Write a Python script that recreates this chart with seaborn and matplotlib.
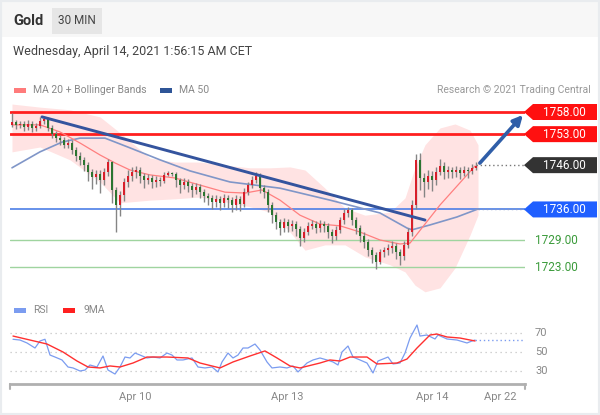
import matplotlib
matplotlib.use("Agg")
import numpy as np
import matplotlib.pyplot as plt
import matplotlib.transforms as mtransforms
from matplotlib.patches import Rectangle, Polygon
import seaborn as sns

# ---- price data (30 min candles, index = candle number) ----
closes = [1755.7, 1755.0, 1755.3, 1754.6, 1755.3, 1754.4, 1754.8, 1756.0, 1756.4, 1754.4,
          1753.0, 1752.1, 1751.7, 1750.6, 1751.0, 1749.4, 1748.1, 1747.2, 1746.0, 1744.5,
          1743.3, 1744.0, 1742.7, 1744.5, 1746.7, 1740.4, 1737.0, 1739.3, 1742.2, 1743.6,
          1744.5, 1744.9, 1743.6, 1742.7, 1743.1, 1742.2, 1742.7, 1742.4, 1743.8, 1744.2,
          1744.0, 1742.7, 1741.5, 1742.2, 1741.3, 1740.4, 1741.1, 1740.0, 1739.1, 1738.6,
          1737.7, 1738.4, 1737.5, 1738.6, 1738.1, 1737.0, 1738.4, 1737.3, 1740.0, 1741.5,
          1742.7, 1743.6, 1740.9, 1740.0, 1737.0, 1734.7, 1733.2, 1731.8, 1733.2, 1732.3,
          1732.8, 1731.6, 1729.6, 1731.0, 1732.3, 1732.8, 1731.8, 1732.8, 1732.3, 1731.0,
          1730.1, 1731.4, 1733.6, 1735.2, 1735.9, 1733.6, 1731.8, 1730.1, 1728.7, 1726.8,
          1725.7, 1724.2, 1726.4, 1726.8, 1727.3, 1727.7, 1726.4, 1725.5, 1728.0, 1730.9,
          1737.0, 1747.2, 1743.1, 1742.2, 1743.6, 1742.7, 1744.5, 1745.8, 1744.5, 1744.9,
          1744.5, 1744.9, 1744.2, 1744.9, 1744.7, 1745.4, 1745.8]
opens = [1755.0] + closes[:-1]
highs = [1757.8, 1756.3, 1756.0, 1756.0, 1756.1, 1755.9, 1755.6, 1756.8, 1757.1, 1756.9,
         1755.0, 1753.7, 1752.8, 1752.3, 1751.9, 1751.6, 1750.0, 1748.9, 1747.8, 1746.7,
         1745.2, 1745.0, 1744.8, 1745.3, 1747.5, 1747.0, 1741.0, 1740.2, 1743.2, 1744.8,
         1745.6, 1745.9, 1745.5, 1744.3, 1744.0, 1743.8, 1743.5, 1743.4, 1744.5, 1744.6,
         1744.5, 1744.4, 1743.2, 1743.0, 1742.8, 1741.9, 1742.0, 1741.7, 1740.6, 1739.8,
         1739.2, 1739.3, 1739.0, 1739.4, 1739.3, 1738.7, 1739.2, 1739.0, 1740.8, 1742.3,
         1743.6, 1744.5, 1744.2, 1741.6, 1740.7, 1737.6, 1735.4, 1733.9, 1734.0, 1733.9,
         1733.6, 1733.4, 1732.2, 1731.9, 1733.1, 1733.7, 1733.5, 1733.6, 1733.5, 1732.9,
         1731.6, 1732.3, 1734.4, 1736.2, 1736.6, 1736.4, 1734.2, 1732.4, 1730.8, 1729.4,
         1727.5, 1726.3, 1727.1, 1727.6, 1728.2, 1728.8, 1728.4, 1727.0, 1728.8, 1731.8,
         1738.2, 1748.6, 1748.8, 1744.2, 1745.0, 1744.6, 1745.6, 1747.3, 1746.6, 1745.9,
         1745.6, 1745.8, 1745.5, 1745.7, 1745.6, 1746.3, 1746.8]
lows = [1754.6, 1754.2, 1754.3, 1753.8, 1754.0, 1753.5, 1753.8, 1754.3, 1755.2, 1753.8,
        1752.2, 1751.2, 1750.6, 1749.8, 1749.9, 1748.5, 1747.0, 1746.0, 1744.6, 1742.5,
        1740.6, 1741.8, 1739.8, 1741.5, 1743.6, 1737.5, 1730.8, 1734.5, 1738.0, 1741.0,
        1742.5, 1743.0, 1742.0, 1740.9, 1741.8, 1740.8, 1741.0, 1741.2, 1742.0, 1743.5,
        1743.6, 1741.0, 1739.8, 1740.6, 1740.0, 1738.8, 1739.5, 1738.6, 1737.6, 1737.0,
        1736.2, 1736.6, 1735.8, 1736.5, 1736.3, 1735.5, 1735.8, 1735.6, 1736.5, 1739.2,
        1740.8, 1741.9, 1739.6, 1738.5, 1735.5, 1733.0, 1731.6, 1730.2, 1730.9, 1730.8,
        1731.2, 1730.0, 1727.8, 1728.7, 1730.2, 1731.5, 1730.6, 1731.0, 1731.0, 1729.6,
        1728.5, 1729.2, 1730.6, 1732.8, 1734.2, 1732.4, 1730.4, 1728.6, 1727.2, 1725.4,
        1724.0, 1722.5, 1723.6, 1725.3, 1725.6, 1726.2, 1724.8, 1723.4, 1724.6, 1727.2,
        1730.0, 1736.2, 1740.4, 1738.8, 1740.6, 1740.2, 1741.6, 1743.8, 1742.8, 1743.0,
        1743.2, 1743.4, 1742.8, 1743.5, 1743.2, 1744.0, 1744.9]

# bollinger band envelope
band_idx = [0, 7, 14.5, 22, 27, 34.5, 40.75, 47, 53.25, 59.5, 64.5, 69.5, 73.25, 78.25,
            83.25, 88.25, 94.5, 98.25, 100.75, 103.25, 107, 110.75, 114.5, 116.5]
band_upper = [1759.8, 1759.1, 1758.5, 1756.9, 1753.3, 1747.6, 1746.7, 1746.7, 1746.0, 1745.4,
              1745.4, 1745.6, 1744.9, 1740.8, 1736.3, 1734.7, 1735.4, 1738.6, 1745.4, 1750.6,
              1754.4, 1755.3, 1753.9, 1750.6]
band_lower = [1749.0, 1750.1, 1747.2, 1742.2, 1737.5, 1738.1, 1738.4, 1738.8, 1737.7, 1736.6,
              1735.4, 1730.9, 1726.8, 1728.0, 1728.0, 1725.3, 1723.5, 1721.9, 1718.9, 1717.4,
              1718.3, 1722.8, 1730.2, 1734.7]

ma20_idx = [0, 7, 12, 17, 22, 25.75, 29.5, 34.5, 40.75, 47, 53.25, 58.25, 62.5, 67, 72,
            77, 82, 87, 92, 97, 99.5, 107, 115.75]
ma20 = [1755.1, 1755.1, 1753.5, 1751.0, 1748.3, 1746.5, 1744.9, 1743.8, 1743.1, 1741.5,
        1739.9, 1739.7, 1740.4, 1738.1, 1734.7, 1732.7, 1732.3, 1730.9, 1729.1, 1728.2,
        1728.4, 1737.0, 1745.8]

ma50_idx = [0, 7, 12.5, 17, 23.25, 29.5, 37, 44.5, 54.5, 67, 79.5, 92, 98.75, 100, 104.5,
            111.25, 116.5]
ma50 = [1745.4, 1749.0, 1751.2, 1752.1, 1752.1, 1749.9, 1747.2, 1744.7, 1742.2, 1740.8,
        1738.1, 1735.2, 1731.8, 1731.4, 1732.5, 1734.3, 1736.1]

trend_idx = [7.5, 103.25]
trend_price = [1756.9, 1733.6]
forecast_idx = [116.5, 128.2]
forecast_price = [1746.0, 1757.8]

resistance = [1758.0, 1753.0]
last_price = 1746.0
pivot = 1736.0
supports = [1729.0, 1723.0]

# ---- RSI panel ----
rsi_idx = [0.25, 2, 3.75, 5.75, 7, 8.25, 9.5, 10.75, 12.5, 14, 15.25, 17, 18.25, 19.5, 21.25,
           22.75, 24, 25.75, 27, 28.25, 29.5, 30.75, 32, 33.75, 35.25, 37, 38.75, 40, 41.25,
           42.75, 45, 46.5, 48.25, 50, 51.5, 52.5, 54, 55.25, 56.5, 57.75, 59, 60.75, 62,
           63.75, 65, 67, 68.75, 70.25, 71.5, 73.75, 75.25, 77, 78.75, 80.25, 81.5, 82.5, 84,
           85.25, 87, 88.75, 90.25, 91.5, 94, 95.25, 97, 98.25, 99.5, 101.25, 102, 103.75,
           105.75, 106.5, 108.75, 111.25, 113.75, 115, 115.75]
rsi = [63.4, 62.6, 59.5, 54.2, 61.6, 63.4, 46.8, 44.7, 41.6, 34.2, 33.2, 30.0, 31.0, 36.3,
       34.2, 45.8, 31.0, 26.8, 34.2, 44.7, 43.7, 48.9, 46.8, 43.7, 44.7, 43.7, 48.9, 46.8,
       41.6, 41.6, 43.7, 34.2, 33.2, 34.2, 29.0, 39.5, 48.9, 43.7, 46.8, 54.2, 54.2, 58.4,
       52.1, 39.5, 33.2, 34.2, 33.2, 35.3, 29.0, 38.4, 41.6, 43.7, 41.6, 39.5, 36.3, 50.0,
       56.3, 44.7, 41.6, 38.4, 27.9, 40.5, 44.7, 37.4, 38.4, 48.9, 64.7, 78.4, 66.8, 67.9,
       63.7, 67.9, 63.7, 62.6, 59.5, 61.6, 62.6]
ma9_idx = [0.25, 4.5, 8.75, 12.75, 16.25, 19, 22, 24.5, 27, 30.25, 33.75, 38.75, 44, 47, 52,
           55.25, 59.5, 63.25, 66.25, 69.5, 72, 77, 79.5, 82, 84.5, 88.75, 91.25, 96.25,
           98.75, 101.25, 104.5, 106.25, 108.75, 112, 115.75]
ma9 = [66.8, 62.6, 58.4, 50.0, 40.5, 34.2, 33.2, 35.3, 34.2, 38.4, 44.7, 44.7, 43.7, 38.4,
       33.2, 39.5, 45.8, 51.1, 43.7, 35.3, 33.2, 38.4, 41.6, 40.5, 44.7, 44.7, 37.4, 38.4,
       42.6, 54.2, 67.9, 68.9, 65.8, 64.7, 61.6]
rsi_levels = [70, 50, 30]

date_ticks = [30.75, 68.75, 105, 122]
date_labels = ["Apr 10", "Apr 13", "Apr 14", "Apr 22"]

sns.set_theme(style="white")
plt.rcParams['font.family'] = ['Roboto', 'DejaVu Sans']

W, H = 600, 415
fig = plt.figure(figsize=(6, 4.15), dpi=100)
fig.patch.set_facecolor("white")

def fx(x):
    return x / W

def fy(y):
    return 1 - y / H

# header band + frame
fig.add_artist(Rectangle((0, fy(37)), 1, 37 / H, transform=fig.transFigure,
                         facecolor="#f7f7f7", edgecolor="none", zorder=0))
fig.add_artist(Rectangle((fx(52), fy(34)), 50 / W, 26 / H, transform=fig.transFigure,
                         facecolor="#e6e6e6", edgecolor="none", zorder=1))
fig.add_artist(Rectangle((0, 0), 1, 1, transform=fig.transFigure, fill=False,
                         edgecolor="#e9ecef", linewidth=3, zorder=5))
fig.text(fx(13), fy(21), "Gold", fontsize=10.5, fontweight="bold", color="#333333", va="center")
fig.text(fx(77), fy(21), "30 MIN", fontsize=8.5, color="#444444", va="center", ha="center")
fig.text(fx(13), fy(51), "Wednesday, April 14, 2021 1:56:15 AM CET", fontsize=9,
         color="#444444", va="center")

# legends
fig.add_artist(Rectangle((fx(14), fy(93)), 12 / W, 5 / H, transform=fig.transFigure,
                         facecolor="#ff7b7b", edgecolor="none"))
fig.text(fx(33), fy(90), "MA 20 + Bollinger Bands", fontsize=7.5, color="#888888", va="center")
fig.add_artist(Rectangle((fx(160), fy(93)), 12 / W, 5 / H, transform=fig.transFigure,
                         facecolor="#2f5597", edgecolor="none"))
fig.text(fx(179), fy(90), "MA 50", fontsize=7.5, color="#888888", va="center")
fig.text(fx(591), fy(90), "Research \u00a9 2021 Trading Central", fontsize=7.5,
         color="#999999", va="center", ha="right")
fig.add_artist(Rectangle((fx(14), fy(313)), 12 / W, 5 / H, transform=fig.transFigure,
                         facecolor="#7b9cf0", edgecolor="none"))
fig.text(fx(33), fy(310), "RSI", fontsize=7.5, color="#888888", va="center")
fig.add_artist(Rectangle((fx(63), fy(313)), 12 / W, 5 / H, transform=fig.transFigure,
                         facecolor="#ff2020", edgecolor="none"))
fig.text(fx(83), fy(310), "9MA", fontsize=7.5, color="#888888", va="center")

# ---- price panel ----
ax = fig.add_axes([fx(10), fy(295), 515 / W, 195 / H])
ax.set_xlim(-0.5, 128.25)
ax.set_ylim(1716.68, 1760.71)
ax.axis("off")

ax.fill_between(band_idx, band_lower, band_upper, color="#ffdede", alpha=0.85,
                linewidth=0, zorder=1)

for r in resistance:
    ax.axhline(r, color="#ff1f1f", lw=2, zorder=2)
ax.axhline(pivot, color="#4d7fe6", lw=1.2, zorder=2)
for s in supports:
    ax.axhline(s, color="#9fd49f", lw=1, zorder=2)

sns.lineplot(x=ma50_idx, y=ma50, ax=ax, color="#8096c8", linewidth=1.2, zorder=3)
sns.lineplot(x=ma20_idx, y=ma20, ax=ax, color="#ff7f7f", linewidth=0.9, zorder=3)

idx = np.arange(len(closes))
o = np.array(opens)
c = np.array(closes)
up = c >= o
ax.vlines(idx, lows, highs, color="#858585", lw=1.0, zorder=4)
body_bottom = np.minimum(o, c)
body_h = np.maximum(np.abs(c - o), 0.2)
ax.bar(idx, body_h, bottom=body_bottom, width=0.65,
       color=np.where(up, "#d81e2a", "#2b7530"), linewidth=0, zorder=5)

ax.plot([idx[-1], 128.25], [last_price, last_price], ls=(0, (1, 2)), color="#777777", lw=1, zorder=3)
ax.plot([ma50_idx[-1], 128.25], [ma50[-1], ma50[-1]], ls=(0, (1, 2)), color="#8096c8", lw=1, zorder=3)

sns.lineplot(x=trend_idx, y=trend_price, ax=ax, color="#34549e", linewidth=2.1, zorder=6)
ax.annotate("", xy=(forecast_idx[1], forecast_price[1]),
            xytext=(forecast_idx[0], forecast_price[0]),
            arrowprops=dict(arrowstyle="-|>", color="#2f5ea8", lw=2.6, mutation_scale=14),
            zorder=7)

# price tags at the right
tag = mtransforms.blended_transform_factory(fig.transFigure, ax.transData)
hh = 8 / (195 / (1760.71 - 1716.68))

def price_tag(p, color):
    pts = [(fx(524), p), (fx(533), p + hh), (fx(597), p + hh), (fx(597), p - hh), (fx(533), p - hh)]
    ax.add_patch(Polygon(pts, closed=True, transform=tag, facecolor=color,
                         edgecolor="none", clip_on=False, zorder=8))
    ax.text(fx(564), p, f"{p:.2f}", transform=tag, color="white", fontsize=8.5,
            ha="center", va="center", clip_on=False, zorder=9)

for r in resistance:
    price_tag(r, "#ff1010")
price_tag(last_price, "#333333")
price_tag(pivot, "#1f5fff")
for s in supports:
    ax.text(fx(535), s, f"{s:.2f}", transform=tag, color="#3b9b3b", fontsize=8.5,
            ha="left", va="center", clip_on=False)

# ---- RSI panel ----
ax2 = fig.add_axes([fx(10), fy(384), 515 / W, 66 / H])
ax2.set_xlim(-0.5, 128.25)
ax2.set_ylim(16.3, 85.8)
rsi_tag = mtransforms.blended_transform_factory(fig.transFigure, ax2.transData)
for lv in rsi_levels:
    ax2.axhline(lv, color="#c4c4c4", lw=0.9, ls=(0, (1, 3)), zorder=1)
    ax2.text(fx(535), lv, str(lv), transform=rsi_tag,
             color="#888888", fontsize=8, ha="left", va="center")
sns.lineplot(x=rsi_idx, y=rsi, ax=ax2, color="#7b9cf0", linewidth=0.9, zorder=3)
sns.lineplot(x=ma9_idx, y=ma9, ax=ax2, color="#ff3030", linewidth=1.0, zorder=4)
ax2.plot([rsi_idx[-1], 128.25], [rsi[-1], rsi[-1]], ls=(0, (1, 2)), color="#7b9cf0", lw=1)

for side in ["top", "left", "right"]:
    ax2.spines[side].set_visible(False)
ax2.spines["bottom"].set_color("#b0b0b0")
ax2.spines["bottom"].set_linewidth(2)
ax2.set_yticks([])
ax2.set_xticks(date_ticks)
ax2.set_xticklabels(date_labels, fontsize=8, color="#888888")
ax2.tick_params(axis="x", length=0, pad=6)
for xe in [0, 1]:
    ax2.plot([xe, xe], [0, -0.08], transform=ax2.transAxes, color="#b0b0b0", lw=1.5, clip_on=False)

fig.savefig("out.png", dpi=100, facecolor="white")
